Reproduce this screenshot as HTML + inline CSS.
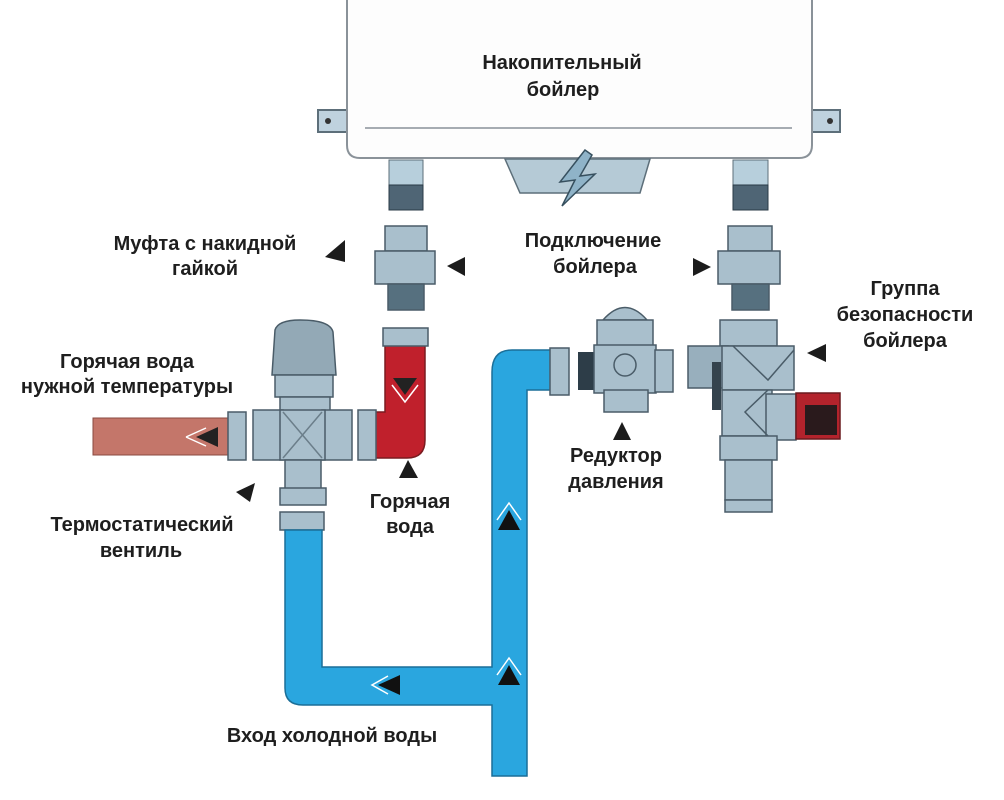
<!DOCTYPE html>
<html><head><meta charset="utf-8"><style>
html,body{margin:0;padding:0;background:#fff;}
svg{display:block}
text{font-family:"Liberation Sans",sans-serif;font-weight:bold;font-size:20px;fill:#1e1e1e;}
</style></head><body>
<svg width="1004" height="800" viewBox="0 0 1004 800" xmlns="http://www.w3.org/2000/svg">
<!-- boiler -->
<rect x="318" y="110" width="32" height="22" fill="#bfd2de" stroke="#5d6f7a" stroke-width="2"/>
<rect x="808" y="110" width="32" height="22" fill="#bfd2de" stroke="#5d6f7a" stroke-width="2"/>
<circle cx="328" cy="121" r="3" fill="#333"/><circle cx="830" cy="121" r="3" fill="#333"/>
<path d="M347,-5 L812,-5 L812,145 Q812,158 799,158 L360,158 Q347,158 347,145 Z" fill="#fdfdfd" stroke="#8a9299" stroke-width="2"/>
<line x1="365" y1="128" x2="792" y2="128" stroke="#8a9299" stroke-width="1.5"/>
<path d="M505,159 L650,159 L640,193 L520,193 Z" fill="#b5cad6" stroke="#5d6f7a" stroke-width="1.5"/>
<path d="M585,150 L560,182 L575,180 L562,206 L595,174 L580,176 L592,155 Z" fill="#8fb3c8" stroke="#37505f" stroke-width="1.5"/>
<!-- stubs -->
<rect x="389" y="160" width="34" height="25" fill="#b7cfdc" stroke="#5d6f7a"/>
<rect x="389" y="185" width="34" height="25" fill="#4f6575" stroke="#2a3a46"/>
<rect x="733" y="160" width="35" height="25" fill="#b7cfdc" stroke="#5d6f7a"/>
<rect x="733" y="185" width="35" height="25" fill="#4f6575" stroke="#2a3a46"/>
<!-- couplings -->
<g fill="#a9bfcc" stroke="#4a5c68" stroke-width="1.5">
<rect x="385" y="226" width="42" height="25"/>
<rect x="375" y="251" width="60" height="33"/>
<rect x="388" y="284" width="36" height="26" fill="#56707f"/>
<rect x="728" y="226" width="44" height="25"/>
<rect x="718" y="251" width="62" height="33"/>
<rect x="732" y="284" width="37" height="26" fill="#56707f"/>
</g>
<!-- hot pipe brown -->
<rect x="93" y="418" width="136" height="37" fill="#c4766a" stroke="#8a4a40"/>
<path d="M196,437 L218,427 L218,447 Z" fill="#222"/>
<path d="M186,437 L206,428 M186,437 L206,446" stroke="#fff" stroke-width="1.5"/>
<rect x="228" y="412" width="18" height="48" fill="#a9bfcc" stroke="#4a5c68" stroke-width="1.5"/>
<!-- thermostatic valve -->
<g fill="#a9bfcc" stroke="#4a5c68" stroke-width="1.5">
<path d="M275,330 Q278,320 300,320 Q330,320 333,332 L336,375 L272,375 Z" fill="#93a9b6"/>
<rect x="275" y="375" width="58" height="22"/>
<rect x="280" y="397" width="50" height="18"/>
<rect x="253" y="410" width="30" height="50"/>
<rect x="322" y="410" width="30" height="50"/>
<path d="M280,410 L325,410 L325,460 L280,460 Z"/>
<path d="M283,412 L322,458 M322,412 L283,458" stroke="#6b7e8a"/>
<rect x="285" y="460" width="36" height="30"/>
<rect x="280" y="488" width="46" height="17"/>
<rect x="280" y="512" width="44" height="18"/>
</g>
<!-- red L pipe -->
<path d="M385,345 L425,345 L425,440 Q425,458 407,458 L375,458 L375,412 L385,412 Z" fill="#c0202c" stroke="#7a1b20" stroke-width="1.5"/>
<path d="M393,378 L417,378 L405,395 Z" fill="#222"/>
<path d="M392,385 L405,402 L418,385" stroke="#fff" stroke-width="1.5" fill="none"/>
<rect x="383" y="328" width="45" height="18" fill="#a9bfcc" stroke="#4a5c68" stroke-width="1.5"/>
<rect x="358" y="410" width="18" height="50" fill="#a9bfcc" stroke="#4a5c68" stroke-width="1.5"/>
<!-- blue pipes -->
<path d="M285,530 L322,530 L322,667 L492,667 L492,372 Q492,350 512,350 L552,350 L552,390 L527,390 L527,776 L492,776 L492,705 L303,705 Q285,705 285,688 Z" fill="#2aa6df" stroke="#1b6f98" stroke-width="1.5"/>
<g fill="#111"><path d="M498,530 L520,530 L509,510 Z"/><path d="M498,685 L520,685 L509,665 Z"/><path d="M378,685 L400,675 L400,695 Z"/></g>
<g stroke="#fff" stroke-width="1.5" fill="none"><path d="M497,520 L509,503 L521,520"/><path d="M497,675 L509,658 L521,675"/><path d="M388,676 L372,685 L388,694"/></g>
<rect x="550" y="348" width="19" height="47" fill="#a9bfcc" stroke="#4a5c68" stroke-width="1.5"/>
<!-- reductor -->
<rect x="578" y="352" width="18" height="38" fill="#2d3d48"/>
<g fill="#a9bfcc" stroke="#4a5c68" stroke-width="1.5">
<path d="M603,320 Q625,295 647,320 Z"/>
<rect x="597" y="320" width="56" height="30"/>
<rect x="594" y="345" width="62" height="48"/>
<rect x="655" y="350" width="18" height="42"/>
<rect x="604" y="390" width="44" height="22"/>
<circle cx="625" cy="365" r="11"/>
</g>
<!-- safety group -->
<g fill="#a9bfcc" stroke="#4a5c68" stroke-width="1.5">
<rect x="720" y="320" width="57" height="26"/>
<rect x="688" y="346" width="40" height="42" fill="#98afbd"/>
<rect x="722" y="346" width="72" height="44"/>
<rect x="722" y="390" width="50" height="46"/>
<rect x="766" y="394" width="30" height="46"/>
<rect x="720" y="436" width="57" height="24"/>
<rect x="725" y="460" width="47" height="40"/>
<rect x="725" y="500" width="47" height="12"/>
<path d="M768,390 L745,412 L768,436" fill="none"/>
<path d="M733,346 L768,380 L794,350" fill="none"/>
</g>
<rect x="796" y="393" width="44" height="46" fill="#b3232c" stroke="#6a1a1e" stroke-width="1.5"/>
<rect x="805" y="405" width="32" height="30" fill="#2a1a1c"/>
<rect x="712" y="362" width="9" height="48" fill="#34434d"/>
<!-- arrows -->
<g fill="#1c1c1c">
<path d="M325,257 L345,240 L345,262 Z"/>
<path d="M447,266 L465,257 L465,276 Z"/>
<path d="M711,267 L693,258 L693,276 Z"/>
<path d="M807,353 L826,344 L826,362 Z"/>
<path d="M613,440 L631,440 L622,422 Z"/>
<path d="M399,478 L418,478 L408,460 Z"/>
<path d="M255,483 L236,492 L250,502 Z"/>
</g>
<!-- labels -->
<text x="562" y="69" text-anchor="middle">Накопительный</text>
<text x="563" y="96" text-anchor="middle">бойлер</text>
<text x="205" y="250" text-anchor="middle">Муфта с накидной</text>
<text x="205" y="275" text-anchor="middle">гайкой</text>
<text x="593" y="247" text-anchor="middle">Подключение</text>
<text x="595" y="273" text-anchor="middle">бойлера</text>
<text x="905" y="295" text-anchor="middle">Группа</text>
<text x="905" y="321" text-anchor="middle">безопасности</text>
<text x="905" y="347" text-anchor="middle">бойлера</text>
<text x="127" y="368" text-anchor="middle">Горячая вода</text>
<text x="127" y="393" text-anchor="middle">нужной температуры</text>
<text x="616" y="462" text-anchor="middle">Редуктор</text>
<text x="616" y="488" text-anchor="middle">давления</text>
<text x="410" y="508" text-anchor="middle">Горячая</text>
<text x="410" y="533" text-anchor="middle">вода</text>
<text x="142" y="531" text-anchor="middle">Термостатический</text>
<text x="141" y="557" text-anchor="middle">вентиль</text>
<text x="332" y="742" text-anchor="middle">Вход холодной воды</text>
</svg>
</body></html>
